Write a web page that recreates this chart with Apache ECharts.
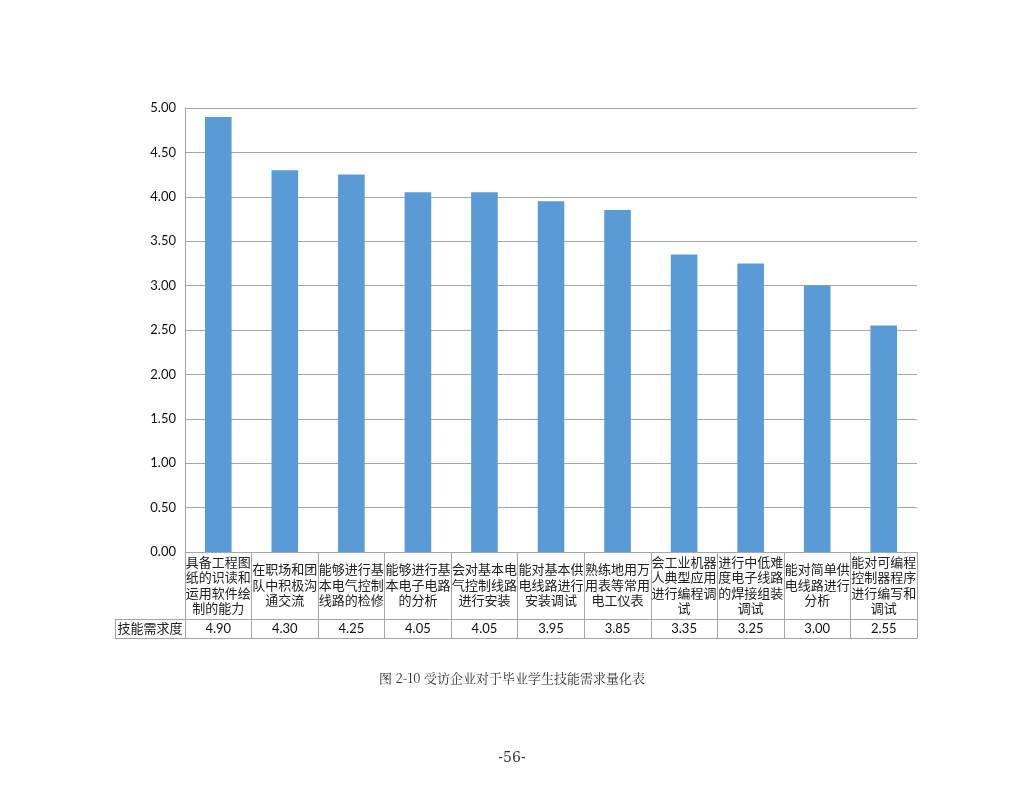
<!DOCTYPE html>
<html>
<head>
<meta charset="utf-8">
<script src="https://cdn.jsdelivr.net/npm/echarts@6/dist/echarts.min.js"></script>
<style>
html,body{margin:0;padding:0;background:#fff;}
#main{width:1024px;height:791px;}
</style>
</head>
<body>
<div id="main"></div>
<script>
var categories = [
  '具备工程图\n纸的识读和\n运用软件绘\n制的能力',
  '在职场和团\n队中积极沟\n通交流',
  '能够进行基\n本电气控制\n线路的检修',
  '能够进行基\n本电子电路\n的分析',
  '会对基本电\n气控制线路\n进行安装',
  '能对基本供\n电线路进行\n安装调试',
  '熟练地用万\n用表等常用\n电工仪表',
  '会工业机器\n人典型应用\n进行编程调\n试',
  '进行中低难\n度电子线路\n的焊接组装\n调试',
  '能对简单供\n电线路进行\n分析',
  '能对可编程\n控制器程序\n进行编写和\n调试'
];
var values = [4.90, 4.30, 4.25, 4.05, 4.05, 3.95, 3.85, 3.35, 3.25, 3.00, 2.55];
var seriesName = '技能需求度';
var captionText = '图 2-10 受访企业对于毕业学生技能需求量化表';
var pageText = '-56-';

var gridColor = '#a6a6a6';
var cjk = '"Noto Sans CJK SC", sans-serif';
var num = 'Lato, "Liberation Sans", sans-serif';

var chart = echarts.init(document.getElementById('main'));
chart.setOption({
  animation: false,
  backgroundColor: '#fff',
  title: [
    {text: captionText, left: 'center', top: 667,
     textStyle: {fontFamily: '"Noto Serif CJK SC","Noto Sans CJK SC", serif', fontSize: 13, fontWeight: 'normal', color: '#333'}},
    {text: pageText, left: 'center', top: 746,
     textStyle: {fontFamily: '"DejaVu Serif", serif', fontSize: 14, fontWeight: 'normal', color: '#333'}}
  ],
  grid: [
    {left: 185, right: 107, top: 108, bottom: 239},
    {left: 115, width: 70, top: 108, bottom: 239}
  ],
  xAxis: [
    {
      type: 'category', gridIndex: 0, data: categories, position: 'bottom',
      axisLine: {show: true, onZero: false, lineStyle: {color: gridColor, width: 1}},
      axisTick: {show: true, interval: 0, length: 86, lineStyle: {color: gridColor, width: 1}},
      axisLabel: {interval: 0, margin: 33, verticalAlign: 'middle', lineHeight: 15.5,
        fontFamily: cjk, fontSize: 13, color: '#222'}
    },
    {
      type: 'category', gridIndex: 0, data: values.map(function(v){return v.toFixed(2);}),
      position: 'bottom', offset: 67,
      axisLine: {show: true, onZero: false, lineStyle: {color: gridColor, width: 1}},
      axisTick: {show: false},
      axisLabel: {interval: 0, margin: 9.5, verticalAlign: 'middle', fontFamily: num, fontSize: 13, color: '#111'}
    },
    {
      type: 'category', gridIndex: 0, data: categories, position: 'bottom', offset: 86,
      axisLine: {show: true, onZero: false, lineStyle: {color: gridColor, width: 1}},
      axisTick: {show: false}, axisLabel: {show: false}
    },
    {
      type: 'category', gridIndex: 1, data: [seriesName], position: 'bottom', offset: 67,
      axisLine: {show: true, onZero: false, lineStyle: {color: gridColor, width: 1}},
      axisTick: {show: true, length: 19, lineStyle: {color: gridColor, width: 1}},
      axisLabel: {interval: 0, margin: 9.5, verticalAlign: 'middle', fontFamily: cjk, fontSize: 13, color: '#222'}
    },
    {
      type: 'category', gridIndex: 1, data: [seriesName], position: 'bottom', offset: 86,
      axisLine: {show: true, onZero: false, lineStyle: {color: gridColor, width: 1}},
      axisTick: {show: false}, axisLabel: {show: false}
    }
  ],
  yAxis: [
    {
      type: 'value', gridIndex: 0, min: 0, max: 5, interval: 0.5,
      axisLine: {show: true, lineStyle: {color: gridColor, width: 1}},
      axisTick: {show: false},
      splitLine: {show: true, lineStyle: {color: gridColor, width: 1}},
      axisLabel: {margin: 9, fontFamily: num, fontSize: 13, color: '#111',
        formatter: function(v){return v.toFixed(2);}}
    },
    {type: 'value', gridIndex: 1, show: false, min: 0, max: 5}
  ],
  series: [{
    name: seriesName, type: 'bar', xAxisIndex: 0, yAxisIndex: 0,
    data: values, barWidth: '40%',
    itemStyle: {color: '#5b9bd5'}
  }]
});
</script>
</body>
</html>
